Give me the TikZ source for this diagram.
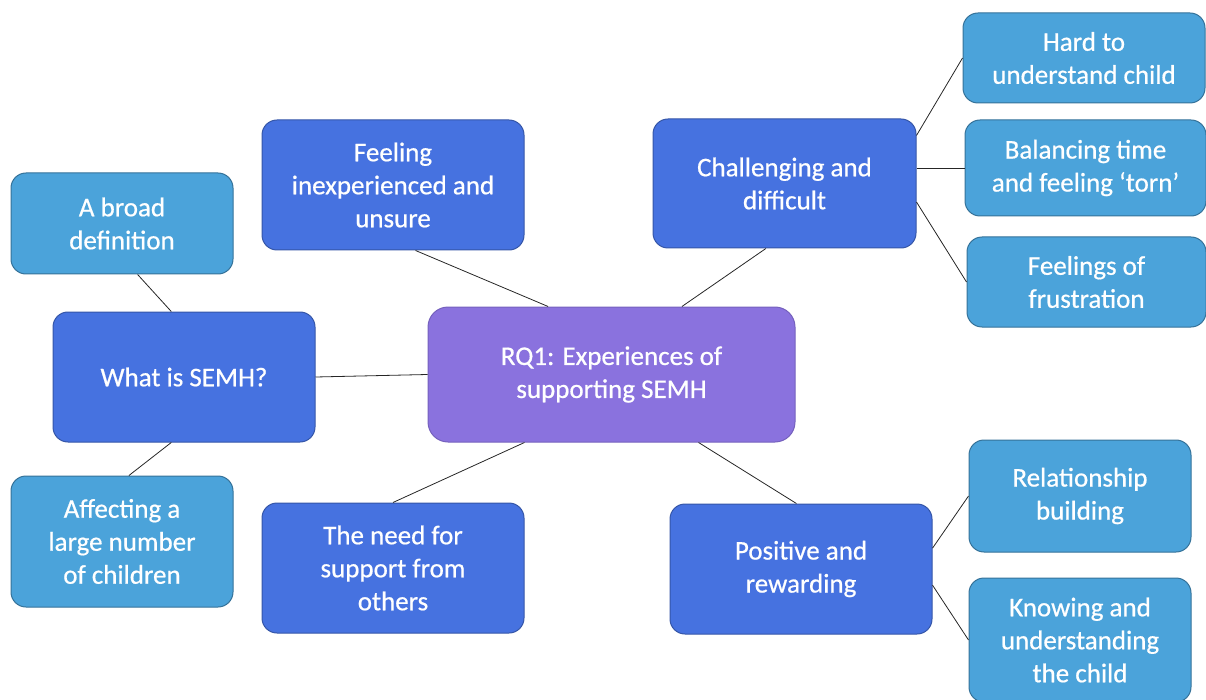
\documentclass[tikz,border=0pt]{standalone}
\usepackage{fontspec}
\setmainfont{Carlito}
\newfontfamily\kastenschrift{Carlito}[FakeBold=0.6]
\usepackage{xcolor}
\usepackage{tikz}
\usetikzlibrary{positioning}

\definecolor{rqlila}{HTML}{8A72DE}
\definecolor{themablau}{HTML}{4672E0}
\definecolor{hellblau}{HTML}{4BA3DA}

\tikzset{
    kasten/.style={rectangle, rounded corners=15pt, inner sep=0pt, align=center, text=white,
        font=\kastenschrift\fontsize{27}{33}\selectfont, line width=1pt},
    rqkasten/.style={kasten, fill=rqlila, draw=rqlila!85!black, rounded corners=20pt},
    themakasten/.style={kasten, fill=themablau, draw=themablau!75!black},
    unterkasten/.style={kasten, fill=hellblau, draw=hellblau!70!black},
    linie/.style={draw=black!85, line width=0.8pt}
}

\begin{document}
\begin{tikzpicture}[x=1pt, y=-1pt]

    % Rahmen
    \useasboundingbox (0,0) rectangle (1206,700);

    % Mitte
    \node (rq) at (611.5,374.5) [rqkasten, minimum width=367pt, minimum height=135pt] {RQ1: Experiences of\\supporting SEMH};

    % Themen
    \node (feel) at (393,185) [themakasten, minimum width=262pt, minimum height=130pt] {Feeling\\inexperienced and\\unsure};
    \node (chal) at (784.5,183.5) [themakasten, minimum width=263pt, minimum height=129pt] {Challenging and\\difficult};
    \node (what) at (184,377) [themakasten, minimum width=262pt, minimum height=130pt] {What is SEMH?};
    \node (need) at (393,568) [themakasten, minimum width=262pt, minimum height=130pt] {The need for\\support from\\others};
    \node (pos) at (801,569) [themakasten, minimum width=262pt, minimum height=130pt] {Positive and\\rewarding};

    % Unterthemen
    \node (hard) at (1084,58) [unterkasten, minimum width=242pt, minimum height=90pt] {Hard to\\understand child};
    \node (bal) at (1085.5,168) [unterkasten, minimum width=241pt, minimum height=96pt] {Balancing time\\and feeling ‘torn’};
    \node (frus) at (1086.5,282) [unterkasten, minimum width=239pt, minimum height=90pt] {Feelings of\\frustration};
    \node (broad) at (122,223.5) [unterkasten, minimum width=222pt, minimum height=101pt] {A broad\\definition};
    \node (affect) at (122,541.5) [unterkasten, minimum width=222pt, minimum height=131pt] {Affecting a\\large number\\of children};
    \node (rel) at (1080,496) [unterkasten, minimum width=222pt, minimum height=112pt] {Relationship\\building};
    \node (know) at (1080,640) [unterkasten, minimum width=222pt, minimum height=124pt] {Knowing and\\understanding\\the child};

    % Verbindungen Mitte
    \draw[linie] (rq.133.3) -- (feel.-71.3);
    \draw[linie] (rq.44.6) -- (chal.-106.8);
    \draw[linie] (rq.west) -- (what.east);
    \draw[linie] (rq.-142.7) -- (need.north);
    \draw[linie] (rq.-38.3) -- (pos.94.4);

    % Verbindungen Unterthemen
    \draw[linie] (broad.-73.5) -- (what.101.3);
    \draw[linie] (what.-101.3) -- (affect.84.8);
    \draw[linie] (chal.20.6) -- (hard.west);
    \draw[linie] (chal.east |- bal.west) -- (bal.west);
    \draw[linie] (chal.-8.4) -- (frus.west);
    \draw[linie] (pos.9.5) -- (rel.west);
    \draw[linie] (pos.-7.8) -- (know.west);
\end{tikzpicture}
\end{document}
